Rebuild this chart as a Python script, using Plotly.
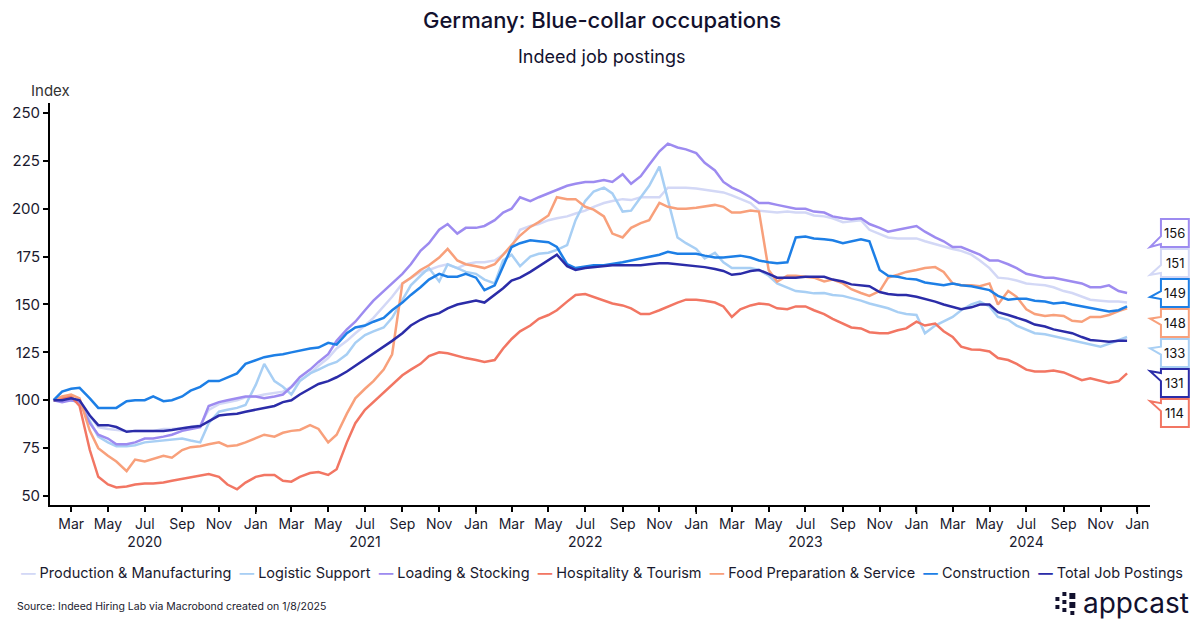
import plotly.graph_objects as go

# semi-monthly observation dates (1st and 15th), Feb 2020 - Dec 2024
dates = []
for yr in range(2020, 2025):
    for mo in range(1, 13):
        if yr == 2020 and mo < 2:
            continue
        dates.append(f"{yr}-{mo:02d}-01")
        dates.append(f"{yr}-{mo:02d}-15")

production = [100, 100, 100, 99, 92, 86, 85, 84.5, 84, 84,
              84, 84, 85, 85, 85.5, 86, 87, 95, 98, 99,
              100, 101.5, 102, 103, 104, 104.5, 107, 110, 114, 118,
              122, 127, 131, 135, 139, 143, 149, 154, 161, 164,
              167, 168, 170, 171, 169, 171, 172, 172, 173, 176,
              180, 189, 191, 192, 194, 195, 196, 197.5, 199, 201,
              203, 204, 205, 204.5, 206, 206, 206, 211, 211, 211,
              210.5, 210, 209, 208.5, 207, 205, 203, 199, 198.5, 198,
              198.5, 198, 198, 196.5, 196, 195, 193, 193.5, 194, 189,
              187, 185, 184.5, 184.5, 184.5, 183, 181.5, 180, 179, 178,
              176, 173, 169, 164, 163.5, 162.5, 161, 160.5, 160, 159,
              157, 156, 154, 152.5, 152, 151.5, 151.5, 151]

logistic = [100, 100, 100, 99, 89, 81, 78, 76, 76, 76.5,
            78, 78.5, 79, 79.5, 80, 79, 78, 88, 94, 95,
            96, 97.5, 108, 119, 110, 107, 103, 110, 114, 116,
            118.5, 120, 124, 130, 134, 136, 138, 143, 152, 160,
            165, 169, 162, 171, 169, 167, 166, 163, 161, 173,
            176, 170, 175, 176.5, 177, 178.5, 181, 194, 204, 209,
            211, 208, 198.5, 199, 206, 212, 222, 205, 185, 182,
            179, 174, 177, 172, 169, 169, 169, 168, 165, 161,
            159, 157, 156.5, 155.8, 156, 155, 154.5, 153.5, 152, 150.5,
            149, 148, 146, 145, 144.5, 135, 139, 141, 143.5, 147,
            150, 151.5, 149, 143.5, 142, 139, 137, 135, 134.5, 133.5,
            132, 131, 130, 129, 128, 129.5, 131.5, 133]

loading = [100, 99, 100, 99, 88, 82, 80, 77, 77, 78,
           80, 80, 81, 82, 84, 85, 86, 97, 99, 100,
           101, 102, 102, 101, 102, 103, 107, 112, 116, 120,
           124, 131, 137, 141, 147, 152, 157, 161, 166, 171,
           178, 182, 189, 192, 187, 190, 190, 191, 194, 198,
           200, 206, 204, 206, 208, 210, 212, 213, 214, 214,
           215, 214, 218, 213, 217, 223, 230, 234, 232, 231,
           229, 224, 220, 214, 211, 209, 206, 203, 203, 202,
           201, 200, 200, 198.5, 198, 196, 195, 194.5, 195, 192,
           190, 188, 189, 190, 191, 188, 185, 183, 180, 180,
           178, 176, 173, 173, 171, 169, 166, 165, 164, 164,
           163, 162, 161, 159, 159, 160, 157, 156]

hospitality = [100, 101, 102, 97, 74, 60, 56, 54.5, 55, 56,
               56.5, 56.5, 57, 58, 59, 60, 61, 61.5, 60, 56,
               53.5, 57, 60, 61, 61, 58, 57.5, 60, 62, 62.5,
               61, 64, 78, 88, 95, 99, 104, 108, 113, 116,
               119, 123, 125, 124.5, 123, 122, 121, 120, 121, 127,
               132, 136, 139, 142.5, 144.5, 147, 151.5, 155, 155.5, 154,
               152, 150.5, 149.5, 148, 145, 145, 147, 149, 151, 152.5,
               152.5, 152, 151, 149, 143.5, 147.5, 149.5, 150.5, 150, 148,
               147.5, 149, 149, 147, 145, 142.5, 140, 138, 137.5, 135.5,
               135, 135, 136.5, 137.5, 141, 139, 140, 136, 133, 128,
               126.5, 126.3, 125.5, 122, 121, 119, 116, 115, 115, 115.5,
               114.5, 112.5, 110.5, 111.5, 110, 109, 110, 114]

food = [100, 102, 103, 101, 84, 75, 71, 68, 63, 69,
        68, 69.5, 71, 70, 74, 75.5, 76, 77, 78, 76,
        76.5, 78, 80, 82, 81, 83, 84, 84.5, 87, 85,
        78, 82, 93, 101, 106, 110, 116, 124, 161, 164,
        168, 170.5, 174.5, 179, 173, 171, 170, 169, 171, 176,
        181, 186, 190.5, 193, 196.5, 206, 205, 205, 201, 199.5,
        196, 187, 185, 190, 192.5, 194, 203, 201, 200, 200,
        200.5, 201, 202, 201, 198, 198, 199, 198.5, 168, 162,
        165, 165, 164.5, 164, 162, 163, 161, 158, 156, 154.5,
        157, 164, 165.5, 167, 168, 169, 169.5, 167, 161, 160,
        160, 159.5, 161, 150, 157, 154, 147.5, 145, 144, 144.5,
        144, 141.5, 141, 143.5, 143.5, 144.5, 146.5, 148]

construction = [100, 104.5, 106, 106.5, 101, 96, 96, 96, 99.5, 100,
                100, 102, 99.5, 100, 102, 105, 107, 110, 110, 112,
                114, 119, 121, 122.5, 123.5, 124, 125, 126, 127, 127.5,
                130, 129, 135, 138, 139, 141, 143, 147, 151, 155,
                159, 163, 166, 164.5, 164.5, 166, 164, 157.5, 160, 170,
                180, 182, 183.5, 183, 182.5, 180, 171, 169, 170, 170.5,
                170.5, 171, 172, 173, 174, 175, 176, 177.5, 176.5, 176.5,
                176.5, 175.5, 174.5, 174.5, 175, 175.5, 174.5, 173, 172, 171.5,
                172, 185, 185.5, 184.5, 184, 183.5, 182, 183, 184, 183,
                168, 165, 164.5, 163.5, 163, 161.5, 160.5, 160, 161, 160,
                159.5, 158.5, 157.5, 154.5, 152.5, 153, 153, 152, 151.5, 150.5,
                151, 150, 149, 148, 147, 146.3, 147, 149]

total = [100, 100, 101, 100, 92, 87, 87, 86, 83.5, 84,
         84, 84, 84, 84.5, 85.5, 86, 86.5, 89, 92, 92.5,
         93, 94, 95, 96, 97, 99, 100, 103, 106, 108.5,
         110, 112, 115, 118, 121, 124, 128, 131, 135, 139,
         142, 144, 145.5, 148, 150, 151, 152, 151, 155, 158.5,
         162.5, 164, 167, 170, 173, 176, 170, 168, 169, 169.5,
         170, 170.5, 170.5, 170.5, 170.5, 171, 171.5, 171.5, 171, 170.5,
         170, 169.5, 168.5, 167.5, 165.5, 166, 167.5, 168, 166, 164,
         164, 164, 164.5, 164.5, 164.5, 163, 162, 160.5, 160, 159.5,
         156.5, 155.5, 155, 155, 154, 153, 151.5, 150, 148.5, 147.5,
         148.5, 150, 150, 146, 144.5, 143, 141.5, 139.5, 138.5, 137,
         136, 135, 133, 131.5, 131, 130.5, 131, 131]

names = ["Production & Manufacturing", "Logistic Support", "Loading & Stocking",
         "Hospitality & Tourism", "Food Preparation & Service", "Construction",
         "Total Job Postings"]
series = [production, logistic, loading, hospitality, food, construction, total]
colors = ["#d3d8f6", "#a8cff4", "#9d8bf0", "#f27663", "#f8a07b", "#1d7fe6", "#2b2ca8"]

month_labels = ["Jan", "Feb", "Mar", "Apr", "May", "Jun",
                "Jul", "Aug", "Sep", "Oct", "Nov", "Dec"]

# plot area in pixels and value range, used to place the side labels
PL, PR, PT, PB = 45, 1150, 103, 505
YMIN, YMAX = 45.3, 255.2


def px_x(px):
    return (px - PL) / (PR - PL)


def px_y(py):
    return (PB - py) / (PB - PT)


def val_py(v):
    return PB - (v - YMIN) / (YMAX - YMIN) * (PB - PT)


fig = go.Figure()
for name, vals, col in zip(names, series, colors):
    fig.add_trace(go.Scatter(
        x=dates,
        y=vals,
        mode="lines",
        name=name,
        line=dict(color=col, width=2.5),
        showlegend=False
    ))

# x ticks every two months, year under July
tickvals = []
ticktext = []
for yr in range(2020, 2026):
    for mo in [1, 3, 5, 7, 9, 11]:
        if (yr == 2020 and mo < 3) or (yr == 2025 and mo > 1):
            continue
        tickvals.append(f"{yr}-{mo:02d}-01")
        lab = month_labels[mo - 1]
        if mo == 7:
            lab += f"<br>{yr}"
        ticktext.append(lab)

shapes = []
# longer ticks at year boundaries
for yr in range(2021, 2026):
    shapes.append(dict(type="line", xref="x", yref="paper",
                       x0=f"{yr}-01-01", x1=f"{yr}-01-01",
                       y0=0, y1=-9 / (PB - PT),
                       line=dict(color="black", width=1.5)))

annotations = []

# end-value call-out boxes stacked around the mean of the last values
last = [s[-1] for s in series]
order = sorted(range(len(series)), key=lambda k: -last[k])
center_py = val_py(sum(last) / len(last))
for rank, k in enumerate(order):
    cy = center_py + (rank - 3) * 30
    ay = val_py(last[k])
    t = max(-12, min(14, (ay - cy) * 0.3))
    b = cy + max(-8, min(8, t * 0.5))
    L, R, T, B = 1161, 1189, cy - 14, cy + 14
    pts = [(L, T), (R, T), (R, B), (L, B), (L, b + 4), (1150, cy + t), (L, b - 4)]
    path = "M " + " L ".join(f"{px_x(x):.5f},{px_y(y):.5f}" for x, y in pts) + " Z"
    shapes.append(dict(type="path", xref="paper", yref="paper", path=path,
                       line=dict(color=colors[k], width=2), fillcolor="white"))
    annotations.append(dict(xref="paper", yref="paper", x=px_x(1175), y=px_y(cy),
                            text=f"{round(last[k])}", showarrow=False,
                            font=dict(size=13, color="#111111"),
                            xanchor="center", yanchor="middle"))

# appcast logo mark
for x0, y0, s in [(1055, 597, 4), (1055, 605, 4), (1062, 592, 4), (1062, 600, 4),
                  (1062, 608, 4), (1069, 593, 6), (1069, 602, 6), (1070, 611, 4)]:
    shapes.append(dict(type="rect", xref="paper", yref="paper",
                       x0=px_x(x0), x1=px_x(x0 + s), y0=px_y(y0 + s), y1=px_y(y0),
                       line=dict(width=0), fillcolor="#12112e"))

legend_text = "  ".join(
    f'<span style="color:{c}"><b>—</b></span> {n}' for n, c in zip(names, colors))

annotations += [
    dict(xref="paper", yref="paper", x=px_x(600), y=px_y(20),
         text="Germany: Blue-collar occupations", showarrow=False,
         font=dict(size=22, color="#12112e", weight=500), xanchor="center", yanchor="middle"),
    dict(xref="paper", yref="paper", x=px_x(600), y=px_y(57),
         text="Indeed job postings", showarrow=False,
         font=dict(size=18, color="#12112e"), xanchor="center", yanchor="middle"),
    dict(xref="paper", yref="paper", x=px_x(45), y=px_y(90),
         text="Index", showarrow=False,
         font=dict(size=15, color="#333333"), xanchor="center", yanchor="middle"),
    dict(xref="paper", yref="paper", x=px_x(600), y=px_y(573),
         text=legend_text, showarrow=False,
         font=dict(size=14.5, color="#1a1a2e"), xanchor="center", yanchor="middle"),
    dict(xref="paper", yref="paper", x=px_x(10), y=px_y(606),
         text="Source: Indeed Hiring Lab via Macrobond created on 1/8/2025", showarrow=False,
         font=dict(size=10.5, color="#1a1a2e"), xanchor="left", yanchor="middle"),
    dict(xref="paper", yref="paper", x=px_x(1081), y=px_y(603),
         text="appcast", showarrow=False,
         font=dict(size=28, color="#12112e"), xanchor="left", yanchor="middle"),
]

fig.update_layout(
    width=1200,
    height=626,
    margin=dict(l=PL, r=1200 - PR, t=PT, b=626 - PB),
    paper_bgcolor="white",
    plot_bgcolor="white",
    font=dict(family="Inter, Roboto, sans-serif", color="#1a1a2e"),
    xaxis=dict(
        range=["2020-01-26", "2025-01-22"],
        tickvals=tickvals,
        ticktext=ticktext,
        ticks="outside",
        ticklen=5,
        tickwidth=1.5,
        tickcolor="black",
        showline=True,
        linecolor="black",
        linewidth=2,
        showgrid=False,
        zeroline=False,
        tickfont=dict(size=14, color="#1a1a2e"),
    ),
    yaxis=dict(
        range=[YMIN, YMAX],
        tickvals=[50, 75, 100, 125, 150, 175, 200, 225, 250],
        ticks="outside",
        ticklen=5,
        tickwidth=1.5,
        tickcolor="black",
        showline=True,
        linecolor="black",
        linewidth=2,
        showgrid=False,
        zeroline=False,
        tickfont=dict(size=15, color="#1a1a2e"),
    ),
    shapes=shapes,
    annotations=annotations,
)

# drop the default page margin so the 1200x626 figure fills the window exactly
fig.write_html("out.html",
               config={"displayModeBar": False},
               post_script="document.body.style.margin='0';document.body.style.overflow='hidden';")
